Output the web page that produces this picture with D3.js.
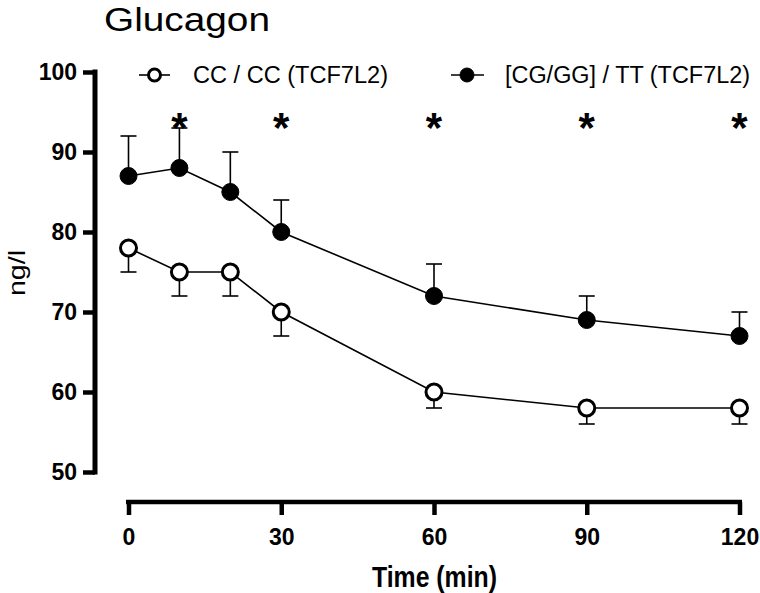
<!DOCTYPE html>
<html>
<head>
<meta charset="utf-8">
<script src="https://cdn.jsdelivr.net/npm/d3@7/dist/d3.min.js"></script>
<style>
  html, body { margin: 0; padding: 0; background: #fff; }
  svg { display: block; font-family: "Liberation Sans", Arial, sans-serif; }
</style>
</head>
<body>
<svg id="chart" width="760" height="593"></svg>
<script>
const times = [0, 10, 20, 30, 60, 90, 120];
const ccMean = [78, 75, 75, 70, 60, 58, 58];
const ccSem = [3, 3, 3, 3, 2, 2, 2];
const riskMean = [87, 88, 85, 80, 72, 69, 67];
const riskSem = [5, 5, 5, 4, 4, 3, 3];
const sigTimes = [10, 30, 60, 90, 120];
const xTicks = [0, 30, 60, 90, 120];
const yTicks = [50, 60, 70, 80, 90, 100];
const seriesNames = ["CC / CC (TCF7L2)", "[CG/GG] / TT (TCF7L2)"];
const titleText = "Glucagon";
const xLabel = "Time (min)";
const yLabel = "ng/l";

const svg = d3.select("#chart");
const x = d3.scaleLinear().domain([0, 120]).range([128.5, 739.5]);
const y = d3.scaleLinear().domain([50, 100]).range([472, 72]);

// Title
svg.append("text").attr("x", 104).attr("y", 31)
  .attr("font-size", 34).attr("textLength", 166).attr("lengthAdjust", "spacingAndGlyphs")
  .text(titleText);

// Y axis
const yAxisX = 95;
const yAxis = d3.axisLeft(y).tickValues(yTicks).tickSize(12).tickPadding(6).tickSizeOuter(0);
const gy = svg.append("g").attr("transform", `translate(${yAxisX},0)`).call(yAxis);
gy.select(".domain").attr("stroke-width", 5).attr("d", `M0,${y(100)-2.5}V${y(50)+2.5}`);
gy.selectAll(".tick line").attr("stroke-width", 4.5);
gy.selectAll(".tick text").attr("font-size", 23).attr("font-weight", "bold")
  .attr("font-family", "Liberation Sans, Arial, sans-serif").attr("fill", "#000");

// X axis
const xAxisY = 502;
const xAxis = d3.axisBottom(x).tickValues(xTicks).tickSize(13).tickPadding(14).tickSizeOuter(0);
const gx = svg.append("g").attr("transform", `translate(0,${xAxisY})`).call(xAxis);
gx.select(".domain").attr("stroke-width", 4.5).attr("d", `M${x(0)-2.5},0H${x(120)+2.5}`);
gx.selectAll(".tick line").attr("stroke-width", 4.5);
gx.selectAll(".tick text").attr("font-size", 23).attr("font-weight", "bold")
  .attr("font-family", "Liberation Sans, Arial, sans-serif").attr("fill", "#000");

// Axis labels
svg.append("text").attr("x", 372).attr("y", 587)
  .attr("font-size", 30).attr("font-weight", "bold")
  .attr("textLength", 125).attr("lengthAdjust", "spacingAndGlyphs")
  .text(xLabel);
svg.append("text").attr("transform", "translate(25,273) rotate(-90)")
  .attr("text-anchor", "middle").attr("font-size", 24)
  .attr("textLength", 46).attr("lengthAdjust", "spacingAndGlyphs")
  .text(yLabel);

const capW = 8;
function drawSeries(means, sems, dir, filled) {
  const pts = times.map((t, i) => ({t, m: means[i], s: sems[i]}));
  const g = svg.append("g");
  // error bars
  pts.forEach(p => {
    const yEnd = y(p.m + dir * p.s);
    g.append("line").attr("x1", x(p.t)).attr("x2", x(p.t))
      .attr("y1", y(p.m)).attr("y2", yEnd).attr("stroke", "#000").attr("stroke-width", 1.6);
    g.append("line").attr("x1", x(p.t) - capW).attr("x2", x(p.t) + capW)
      .attr("y1", yEnd).attr("y2", yEnd).attr("stroke", "#000").attr("stroke-width", 1.6);
  });
  const line = d3.line().x(d => x(d.t)).y(d => y(d.m));
  g.append("path").datum(pts).attr("d", line).attr("fill", "none")
    .attr("stroke", "#000").attr("stroke-width", 1.6);
  g.selectAll("circle").data(pts).join("circle")
    .attr("cx", d => x(d.t)).attr("cy", d => y(d.m))
    .attr("r", filled ? 8.5 : 8)
    .attr("fill", filled ? "#000" : "#fff")
    .attr("stroke", "#000").attr("stroke-width", filled ? 1 : 3);
}
drawSeries(ccMean, ccSem, -1, false);
drawSeries(riskMean, riskSem, 1, true);

// significance asterisks
svg.selectAll("text.sig").data(sigTimes).join("text").attr("class", "sig")
  .attr("x", d => x(d)).attr("y", 142).attr("text-anchor", "middle")
  .attr("font-size", 42).attr("font-weight", "bold").text("*");

// Legend
const legend = [
  {name: seriesNames[0], x0: 139, x1: 170, cx: 154.5, tx: 193, w: 195, filled: false},
  {name: seriesNames[1], x0: 451, x1: 484, cx: 467, tx: 505, w: 245, filled: true}
];
const legY = 75;
legend.forEach(l => {
  svg.append("line").attr("x1", l.x0).attr("x2", l.x1).attr("y1", legY).attr("y2", legY)
    .attr("stroke", "#000").attr("stroke-width", 1.6);
  svg.append("circle").attr("cx", l.cx).attr("cy", legY).attr("r", l.filled ? 7 : 6)
    .attr("fill", l.filled ? "#000" : "#fff").attr("stroke", "#000")
    .attr("stroke-width", l.filled ? 1 : 3);
  svg.append("text").attr("x", l.tx).attr("y", legY + 8).attr("font-size", 23)
    .attr("textLength", l.w).attr("lengthAdjust", "spacingAndGlyphs").text(l.name);
});
</script>
</body>
</html>
